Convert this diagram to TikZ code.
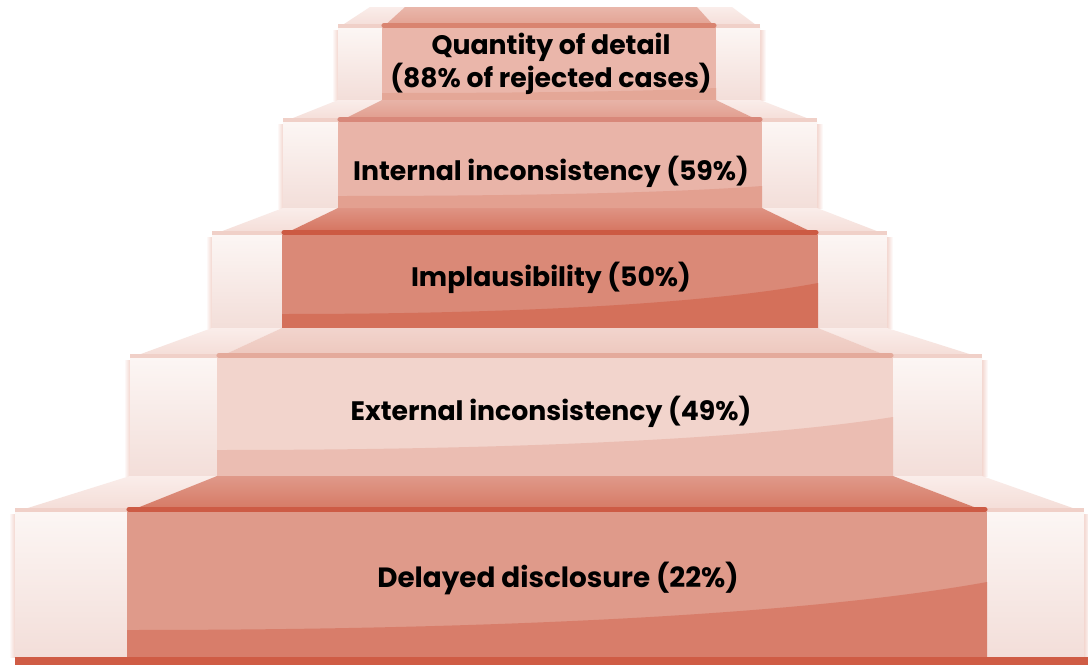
\documentclass[tikz,border=0pt]{standalone}
\usepackage{fontspec}
\setmainfont{Poppins}
\definecolor{pil}{HTML}{FCF6F4}
\definecolor{pilb}{HTML}{F3DED9}
\definecolor{sttop}{HTML}{FAEDEA}
\definecolor{stbot}{HTML}{F4DCD6}
\definecolor{stn}{HTML}{F0D0C8}
\definecolor{shad}{HTML}{F3D6CF}
\definecolor{floor}{HTML}{CF5C45}
\definecolor{t1}{HTML}{E29F8F}\definecolor{n1}{HTML}{D98470}
\definecolor{r1u}{HTML}{EAB6AA}\definecolor{r1l}{HTML}{E4A797}
\definecolor{t2}{HTML}{E09A8A}\definecolor{n2}{HTML}{D8887A}
\definecolor{r2u}{HTML}{E9B4A8}\definecolor{r2l}{HTML}{E3A090}
\definecolor{t3}{HTML}{D4705B}\definecolor{n3}{HTML}{CC5A43}
\definecolor{r3u}{HTML}{DA8977}\definecolor{r3l}{HTML}{D4705A}
\definecolor{t4}{HTML}{EDC6BC}\definecolor{n4}{HTML}{E4AA9B}
\definecolor{r4u}{HTML}{F2D4CC}\definecolor{r4l}{HTML}{EBBDB2}
\definecolor{t5}{HTML}{D57762}\definecolor{n5}{HTML}{CD5B45}
\definecolor{r5u}{HTML}{DF9A8A}\definecolor{r5l}{HTML}{D87D6A}
\tikzset{
  label/.style={font=\bfseries\fontsize{19}{23.5}\selectfont, text=black, align=center, inner sep=0pt}
}
\begin{document}
\begin{tikzpicture}[x=0.025cm,y=-0.025cm]
\useasboundingbox (0,0) rectangle (1088,665);
\fill[white] (0,0) rectangle (1088,665);
\foreach \plo/\plc/\prc/\pro/\pb/\lo/\lc/\rc/\ro/\t/\b/\k/\cl/\cr in {
  370/405/697/732/7/338/382/716/760/28/100/1/93/88,
  338/382/716/760/100/283/338/762/817/122/208/2/196/186,
  283/338/762/817/208/212/282/818/887/235/328/3/314/283,
  212/282/818/887/328/130/217/893/982/358/476/4/450/417,
  130/217/893/982/476/15/127/987/1084/512/657/5/630/582}{
  % soft outer shadows of pillars
  \shade[left color=white, right color=shad] (\lo-6,\t+2) rectangle (\lo,\b);
  \shade[left color=shad, right color=white] (\ro,\t+2) rectangle (\ro+6,\b);
  % side treads
  \shade[top color=sttop, bottom color=stbot] (\plo,\pb) -- (\plc,\pb) -- (\lc,\t) -- (\lo,\t) -- cycle;
  \shade[top color=sttop, bottom color=stbot] (\pro,\pb) -- (\prc,\pb) -- (\rc,\t) -- (\ro,\t) -- cycle;
  \fill[stn] (\lo,\t-4) rectangle (\lc,\t);
  \fill[stn] (\rc,\t-4) rectangle (\ro,\t);
  % central tread
  \shade[top color=t\k!75!white, bottom color=t\k] (\plc,\pb) -- (\prc,\pb) -- (\rc,\t) -- (\lc,\t) -- cycle;
  \draw[n\k, line width=3.6pt, line cap=round] (\lc+2,\t-2.5) -- (\rc-2,\t-2.5);
  % pillars
  \shade[top color=pil, bottom color=pilb] (\lo,\t) rectangle (\lc,\b);
  \shade[top color=pil, bottom color=pilb] (\rc,\t) rectangle (\ro,\b);
  % central riser
  \fill[r\k u] (\lc,\t) rectangle (\rc,\b);
  \fill[r\k l] (\lc,\cl) .. controls ({\lc+0.45*(\rc-\lc)},\cl) and ({\lc+0.8*(\rc-\lc)},{\cl-0.35*(\cl-\cr)}) .. (\rc,\cr) -- (\rc,\b) -- (\lc,\b) -- cycle;
}
\fill[floor] (15,657) rectangle (1088,665);
\node[label] (q) at (551,64) {Quantity of detail\\(88\% of rejected cases)};
\node[label] (ii) at (551,172) {Internal inconsistency (59\%)};
\node[label] (im) at (551,278) {Implausibility (50\%)};
\node[label] (ei) at (551,412) {External inconsistency (49\%)};
\node[label, font=\bfseries\fontsize{19.8}{24}\selectfont] (dd) at (558,578) {Delayed disclosure (22\%)};
\end{tikzpicture}
\end{document}
